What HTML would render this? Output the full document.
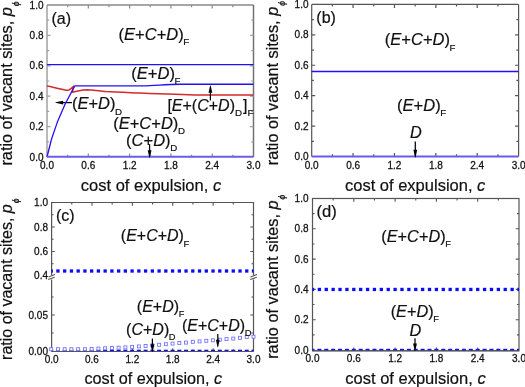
<!DOCTYPE html>
<html><head><meta charset="utf-8"><style>
html,body{margin:0;padding:0;background:#fff;overflow:hidden}
svg{display:block;will-change:transform}
text{font-family:"Liberation Sans", sans-serif;fill:#111;stroke:#111;stroke-width:0.2px}
text.t{stroke-width:0.26px}
</style></head><body>
<svg width="525" height="387" viewBox="0 0 525 387">
<rect width="525" height="387" fill="#fff"/>
<path d="M47,157V5" stroke="#a0a0a0" stroke-width="1.5" fill="none"/>
<path d="M47,5H253.5" stroke="#8a8a8a" stroke-width="1.5" fill="none"/>
<path d="M253.5,5V157" stroke="#707070" stroke-width="1.5" fill="none"/>
<path d="M67.65,157v-2.2M67.65,5v2.2M88.30,157v-3.5M88.30,5v3.5M108.95,157v-2.2M108.95,5v2.2M129.60,157v-3.5M129.60,5v3.5M150.25,157v-2.2M150.25,5v2.2M170.90,157v-3.5M170.90,5v3.5M191.55,157v-2.2M191.55,5v2.2M212.20,157v-3.5M212.20,5v3.5M232.85,157v-2.2M232.85,5v2.2" stroke="#8a8a8a" stroke-width="1.2" fill="none"/>
<path d="M47,141.80h2.2M253.5,141.80h-2.2M47,126.60h3.5M253.5,126.60h-3.5M47,111.40h2.2M253.5,111.40h-2.2M47,96.20h3.5M253.5,96.20h-3.5M47,81.00h2.2M253.5,81.00h-2.2M47,65.80h3.5M253.5,65.80h-3.5M47,50.60h2.2M253.5,50.60h-2.2M47,35.40h3.5M253.5,35.40h-3.5M47,20.20h2.2M253.5,20.20h-2.2" stroke="#a0a0a0" stroke-width="1.2" fill="none"/>
<path d="M72,102.6H62.1" stroke="#000" stroke-width="1.25"/><path d="M63.1,100.8L63.1,104.39999999999999L55.5,102.85L55.5,102.35Z" fill="#000"/>
<path d="M47,64.6H253.5" stroke="#2410f2" stroke-width="1.35" fill="none"/>
<path d="M47,85.9 C52,86.8 58,88.3 63,89.6 C65.5,90.3 67,90.6 68.9,90 C70.5,89.3 72.5,87.5 74.1,85.9 L72.2,92.2 C74,91.8 76,91.4 78,91.0 C81,90.4 84,89.9 87,89.8 C92,89.8 98,90.6 106,91.6 C115,92.3 125,92.5 140,93 C160,93.8 180,94.6 200,95 L253.5,95.1" stroke="#d42a2a" stroke-width="1.5" fill="none"/>
<path d="M47,157 C50.2,141.7 56.9,117 74.4,86.5 Q74.8,85.9 75.6,85.9 H143 C155,85.9 165,84.2 180,84.2 H253.5" stroke="#2410f2" stroke-width="1.35" fill="none"/>
<path d="M47,156.8H253.5" stroke="#6a5ce6" stroke-width="2" fill="none"/>
<text class="t" x="47.00" y="168.7" font-size="10" text-anchor="middle">0.0</text><text class="t" x="88.30" y="168.7" font-size="10" text-anchor="middle">0.6</text><text class="t" x="129.60" y="168.7" font-size="10" text-anchor="middle">1.2</text><text class="t" x="170.90" y="168.7" font-size="10" text-anchor="middle">1.8</text><text class="t" x="212.20" y="168.7" font-size="10" text-anchor="middle">2.4</text><text class="t" x="253.50" y="168.7" font-size="10" text-anchor="middle">3.0</text>
<text class="t" x="43.5" y="160.60" font-size="10" text-anchor="end">0.0</text><text class="t" x="43.5" y="130.20" font-size="10" text-anchor="end">0.2</text><text class="t" x="43.5" y="99.80" font-size="10" text-anchor="end">0.4</text><text class="t" x="43.5" y="69.40" font-size="10" text-anchor="end">0.6</text><text class="t" x="43.5" y="39.00" font-size="10" text-anchor="end">0.8</text><text class="t" x="43.5" y="8.60" font-size="10" text-anchor="end">1.0</text>
<text transform="translate(12.4,165.6) rotate(-90)" x="0" y="0" font-size="16.3">ratio of vacant sites, <tspan font-style="italic">p</tspan><tspan font-size="8.5" dy="6.8" dx="1.0" font-style="italic">ϕ</tspan></text>
<text x="80.8" y="190.8" font-size="16.5">cost of expulsion, <tspan font-style="italic">c</tspan></text>
<text x="51.5" y="24" font-size="16" text-anchor="start" >(a)</text>
<text x="118.6" y="39.7" font-size="16.5">(<tspan font-style="italic">E</tspan>+<tspan font-style="italic">C</tspan>+<tspan font-style="italic">D</tspan>)<tspan font-size="9.7" dy="5.5" dx="-0.4">F</tspan></text>
<text x="131.3" y="78.6" font-size="16.5">(<tspan font-style="italic">E</tspan>+<tspan font-style="italic">D</tspan>)<tspan font-size="9.7" dy="5.5" dx="-0.4">F</tspan></text>
<text x="71.9" y="109.0" font-size="16.5">(<tspan font-style="italic">E</tspan>+<tspan font-style="italic">D</tspan>)<tspan font-size="9.7" dy="5.5" dx="-0.4">D</tspan></text>
<text x="167.4" y="110.6" font-size="16">[<tspan font-style="italic">E</tspan>+(<tspan font-style="italic">C</tspan>+<tspan font-style="italic">D</tspan>)<tspan font-size="9.8" dy="5.0">D</tspan><tspan dy="-5.0" dx="0.9">]</tspan><tspan font-size="9.8" dy="5.2">F</tspan></text>
<path d="M210.4,100.5V91.8" stroke="#000" stroke-width="1.25"/><path d="M208.5,92.8L212.3,92.8L210.65,85.4L210.15,85.4Z" fill="#000"/>
<text x="113.2" y="128.5" font-size="16.5">(<tspan font-style="italic">E</tspan>+<tspan font-style="italic">C</tspan>+<tspan font-style="italic">D</tspan>)<tspan font-size="9.7" dy="5.5" dx="-0.4">D</tspan></text>
<text x="126.1" y="145.5" font-size="16.5">(<tspan font-style="italic">C</tspan>+<tspan font-style="italic">D</tspan>)<tspan font-size="9.7" dy="5.5" dx="-0.4">D</tspan></text>
<path d="M149.6,144.2V151.2" stroke="#000" stroke-width="1.25"/><path d="M147.7,150.2L151.5,150.2L149.85,157.8L149.35,157.8Z" fill="#000"/>
<path d="M311.7,156.5V4.4" stroke="#555" stroke-width="1.2" fill="none"/>
<path d="M311.7,4.4H518.6" stroke="#555" stroke-width="1.2" fill="none"/>
<path d="M518.6,4.4V156.5" stroke="#555" stroke-width="1.2" fill="none"/>
<path d="M332.39,156.5v-2.2M332.39,4.4v2.2M353.08,156.5v-3.5M353.08,4.4v3.5M373.77,156.5v-2.2M373.77,4.4v2.2M394.46,156.5v-3.5M394.46,4.4v3.5M415.15,156.5v-2.2M415.15,4.4v2.2M435.84,156.5v-3.5M435.84,4.4v3.5M456.53,156.5v-2.2M456.53,4.4v2.2M477.22,156.5v-3.5M477.22,4.4v3.5M497.91,156.5v-2.2M497.91,4.4v2.2" stroke="#555" stroke-width="1.2" fill="none"/>
<path d="M311.7,141.29h2.2M518.6,141.29h-2.2M311.7,126.08h3.5M518.6,126.08h-3.5M311.7,110.87h2.2M518.6,110.87h-2.2M311.7,95.66h3.5M518.6,95.66h-3.5M311.7,80.45h2.2M518.6,80.45h-2.2M311.7,65.24h3.5M518.6,65.24h-3.5M311.7,50.03h2.2M518.6,50.03h-2.2M311.7,34.82h3.5M518.6,34.82h-3.5M311.7,19.61h2.2M518.6,19.61h-2.2" stroke="#555" stroke-width="1.2" fill="none"/>
<path d="M311.7,71.5H518.6" stroke="#2410f2" stroke-width="1.35" fill="none"/>
<path d="M311.7,156.6H518.6" stroke="#6a5ce6" stroke-width="2" fill="none"/>
<text class="t" x="311.70" y="168.5" font-size="10" text-anchor="middle">0.0</text><text class="t" x="353.08" y="168.5" font-size="10" text-anchor="middle">0.6</text><text class="t" x="394.46" y="168.5" font-size="10" text-anchor="middle">1.2</text><text class="t" x="435.84" y="168.5" font-size="10" text-anchor="middle">1.8</text><text class="t" x="477.22" y="168.5" font-size="10" text-anchor="middle">2.4</text><text class="t" x="518.60" y="168.5" font-size="10" text-anchor="middle">3.0</text>
<text class="t" x="308.5" y="160.10" font-size="10" text-anchor="end">0.0</text><text class="t" x="308.5" y="129.68" font-size="10" text-anchor="end">0.2</text><text class="t" x="308.5" y="99.26" font-size="10" text-anchor="end">0.4</text><text class="t" x="308.5" y="68.84" font-size="10" text-anchor="end">0.6</text><text class="t" x="308.5" y="38.42" font-size="10" text-anchor="end">0.8</text><text class="t" x="308.5" y="8.00" font-size="10" text-anchor="end">1.0</text>
<text transform="translate(278.1,165.2) rotate(-90)" x="0" y="0" font-size="16.3">ratio of vacant sites, <tspan font-style="italic">p</tspan><tspan font-size="8.5" dy="6.8" dx="1.0" font-style="italic">ϕ</tspan></text>
<text x="345" y="190.5" font-size="16.5">cost of expulsion, <tspan font-style="italic">c</tspan></text>
<text x="316.3" y="23" font-size="16" text-anchor="start" >(b)</text>
<text x="384.8" y="45.0" font-size="16.5">(<tspan font-style="italic">E</tspan>+<tspan font-style="italic">C</tspan>+<tspan font-style="italic">D</tspan>)<tspan font-size="9.7" dy="5.5" dx="-0.4">F</tspan></text>
<text x="397.1" y="110.7" font-size="16.5">(<tspan font-style="italic">E</tspan>+<tspan font-style="italic">D</tspan>)<tspan font-size="9.7" dy="5.5" dx="-0.4">F</tspan></text>
<text x="410.0" y="137.9" font-size="16.3" text-anchor="start" ><tspan font-style="italic">D</tspan></text>
<path d="M415.3,141.6V150.79999999999998" stroke="#000" stroke-width="1.25"/><path d="M413.40000000000003,149.79999999999998L417.2,149.79999999999998L415.55,157.4L415.05,157.4Z" fill="#000"/>
<path d="M51.6,275 V202.5 H253.5 V275 M51.6,279.5 V351.5 M253.5,351.5 V279.5" fill="none" stroke="#555555" stroke-width="1.2"/>
<path d="M48.5,276.9 L55,274.6 M48.2,279.6 L54.7,277.3 M250.5,276.9 L257,274.6 M250.2,279.6 L256.7,277.3" stroke="#555555" stroke-width="1.1"/>
<path d="M71.79,351.5v-2.0M71.79,202.5v2.0M91.98,351.5v-3.2M91.98,202.5v3.2M112.17,351.5v-2.0M112.17,202.5v2.0M132.36,351.5v-3.2M132.36,202.5v3.2M152.55,351.5v-2.0M152.55,202.5v2.0M172.74,351.5v-3.2M172.74,202.5v3.2M192.93,351.5v-2.0M192.93,202.5v2.0M213.12,351.5v-3.2M213.12,202.5v3.2M233.31,351.5v-2.0M233.31,202.5v2.0" stroke="#555555" stroke-width="1.1" fill="none"/>
<path d="M51.6,214.75h2.0M253.5,214.75h-2.0M51.6,227.00h3.2M253.5,227.00h-3.2M51.6,239.25h2.0M253.5,239.25h-2.0M51.6,251.50h3.2M253.5,251.50h-3.2M51.6,263.75h2.0M253.5,263.75h-2.0M51.6,333.00h2.0M253.5,333.00h-2.0M51.6,315.00h3.2M253.5,315.00h-3.2M51.6,297.00h2.0M253.5,297.00h-2.0" stroke="#555555" stroke-width="1.1" fill="none"/>
<clipPath id="cc"><rect x="51.300000000000004" y="202.5" width="202.20000000000002" height="151.0"/></clipPath>
<g fill="#0a0aff" clip-path="url(#cc)"><rect x="49.55" y="269.35" width="3.3" height="3.3"/><rect x="49.20" y="349.7" width="4" height="2.0"/><rect x="56.29" y="269.35" width="3.3" height="3.3"/><rect x="55.94" y="349.7" width="4" height="2.0"/><rect x="63.04" y="269.35" width="3.3" height="3.3"/><rect x="62.69" y="349.7" width="4" height="2.0"/><rect x="69.78" y="269.35" width="3.3" height="3.3"/><rect x="69.43" y="349.7" width="4" height="2.0"/><rect x="76.52" y="269.35" width="3.3" height="3.3"/><rect x="76.17" y="349.7" width="4" height="2.0"/><rect x="83.27" y="269.35" width="3.3" height="3.3"/><rect x="82.92" y="349.7" width="4" height="2.0"/><rect x="90.01" y="269.35" width="3.3" height="3.3"/><rect x="89.66" y="349.7" width="4" height="2.0"/><rect x="96.75" y="269.35" width="3.3" height="3.3"/><rect x="96.40" y="349.7" width="4" height="2.0"/><rect x="103.49" y="269.35" width="3.3" height="3.3"/><rect x="103.14" y="349.7" width="4" height="2.0"/><rect x="110.24" y="269.35" width="3.3" height="3.3"/><rect x="109.89" y="349.7" width="4" height="2.0"/><rect x="116.98" y="269.35" width="3.3" height="3.3"/><rect x="116.63" y="349.7" width="4" height="2.0"/><rect x="123.72" y="269.35" width="3.3" height="3.3"/><rect x="123.37" y="349.7" width="4" height="2.0"/><rect x="130.47" y="269.35" width="3.3" height="3.3"/><rect x="130.12" y="349.7" width="4" height="2.0"/><rect x="137.21" y="269.35" width="3.3" height="3.3"/><rect x="136.86" y="349.7" width="4" height="2.0"/><rect x="143.95" y="269.35" width="3.3" height="3.3"/><rect x="143.60" y="349.7" width="4" height="2.0"/><rect x="150.70" y="269.35" width="3.3" height="3.3"/><rect x="150.35" y="349.7" width="4" height="2.0"/><rect x="157.44" y="269.35" width="3.3" height="3.3"/><rect x="157.09" y="349.7" width="4" height="2.0"/><rect x="164.18" y="269.35" width="3.3" height="3.3"/><rect x="163.83" y="349.7" width="4" height="2.0"/><rect x="170.92" y="269.35" width="3.3" height="3.3"/><rect x="170.57" y="349.7" width="4" height="2.0"/><rect x="177.67" y="269.35" width="3.3" height="3.3"/><rect x="177.32" y="349.7" width="4" height="2.0"/><rect x="184.41" y="269.35" width="3.3" height="3.3"/><rect x="184.06" y="349.7" width="4" height="2.0"/><rect x="191.15" y="269.35" width="3.3" height="3.3"/><rect x="190.80" y="349.7" width="4" height="2.0"/><rect x="197.90" y="269.35" width="3.3" height="3.3"/><rect x="197.55" y="349.7" width="4" height="2.0"/><rect x="204.64" y="269.35" width="3.3" height="3.3"/><rect x="204.29" y="349.7" width="4" height="2.0"/><rect x="211.38" y="269.35" width="3.3" height="3.3"/><rect x="211.03" y="349.7" width="4" height="2.0"/><rect x="218.13" y="269.35" width="3.3" height="3.3"/><rect x="217.78" y="349.7" width="4" height="2.0"/><rect x="224.87" y="269.35" width="3.3" height="3.3"/><rect x="224.52" y="349.7" width="4" height="2.0"/><rect x="231.61" y="269.35" width="3.3" height="3.3"/><rect x="231.26" y="349.7" width="4" height="2.0"/><rect x="238.35" y="269.35" width="3.3" height="3.3"/><rect x="238.00" y="349.7" width="4" height="2.0"/><rect x="245.10" y="269.35" width="3.3" height="3.3"/><rect x="244.75" y="349.7" width="4" height="2.0"/><rect x="251.84" y="269.35" width="3.3" height="3.3"/><rect x="251.49" y="349.7" width="4" height="2.0"/></g>
<g fill="#fff" stroke="#6e6eff" stroke-width="0.85"><rect x="49.70" y="347.70" width="3.0" height="3.0"/><rect x="56.44" y="347.70" width="3.0" height="3.0"/><rect x="63.19" y="347.70" width="3.0" height="3.0"/><rect x="69.93" y="347.70" width="3.0" height="3.0"/><rect x="76.67" y="347.70" width="3.0" height="3.0"/><rect x="83.42" y="347.70" width="3.0" height="3.0"/><rect x="90.16" y="347.40" width="3.0" height="3.0"/><rect x="96.90" y="347.10" width="3.0" height="3.0"/><rect x="103.64" y="346.80" width="3.0" height="3.0"/><rect x="110.39" y="346.50" width="3.0" height="3.0"/><rect x="117.13" y="346.20" width="3.0" height="3.0"/><rect x="123.87" y="345.90" width="3.0" height="3.0"/><rect x="130.62" y="345.43" width="3.0" height="3.0"/><rect x="137.36" y="344.97" width="3.0" height="3.0"/><rect x="144.10" y="344.50" width="3.0" height="3.0"/><rect x="150.85" y="343.90" width="3.0" height="3.0"/><rect x="157.59" y="343.30" width="3.0" height="3.0"/><rect x="164.33" y="342.70" width="3.0" height="3.0"/><rect x="171.07" y="342.10" width="3.0" height="3.0"/><rect x="177.82" y="341.50" width="3.0" height="3.0"/><rect x="184.56" y="341.10" width="3.0" height="3.0"/><rect x="191.30" y="340.30" width="3.0" height="3.0"/><rect x="198.05" y="339.90" width="3.0" height="3.0"/><rect x="204.79" y="339.30" width="3.0" height="3.0"/><rect x="211.53" y="338.80" width="3.0" height="3.0"/><rect x="218.28" y="338.20" width="3.0" height="3.0"/><rect x="225.02" y="337.60" width="3.0" height="3.0"/><rect x="231.76" y="337.10" width="3.0" height="3.0"/><rect x="238.50" y="336.30" width="3.0" height="3.0"/><rect x="245.25" y="335.50" width="3.0" height="3.0"/><rect x="251.99" y="335.20" width="3.0" height="3.0"/></g>
<path d="M51.6,351.5H253.5" stroke="#555555" stroke-width="1.1"/>
<text class="t" x="51.60" y="362.7" font-size="10" text-anchor="middle">0.0</text><text class="t" x="91.98" y="362.7" font-size="10" text-anchor="middle">0.6</text><text class="t" x="132.36" y="362.7" font-size="10" text-anchor="middle">1.2</text><text class="t" x="172.74" y="362.7" font-size="10" text-anchor="middle">1.8</text><text class="t" x="213.12" y="362.7" font-size="10" text-anchor="middle">2.4</text><text class="t" x="253.50" y="362.7" font-size="10" text-anchor="middle">3.0</text>
<text class="t" x="48" y="206.10" font-size="10" text-anchor="end">1.0</text><text class="t" x="48" y="230.60" font-size="10" text-anchor="end">0.8</text><text class="t" x="48" y="255.10" font-size="10" text-anchor="end">0.6</text><text class="t" x="48" y="278.80" font-size="10" text-anchor="end">0.4</text><text class="t" x="48" y="318.60" font-size="10" text-anchor="end">0.05</text><text class="t" x="48" y="354.60" font-size="10" text-anchor="end">0.00</text>
<text transform="translate(12.3,359.9) rotate(-90)" x="0" y="0" font-size="16.0">ratio of vacant sites, <tspan font-style="italic">p</tspan><tspan font-size="8.5" dy="6.8" dx="1.0" font-style="italic">ϕ</tspan></text>
<text x="84.5" y="383.6" font-size="16.2">cost of expulsion, <tspan font-style="italic">c</tspan></text>
<text x="55.9" y="221.2" font-size="16" text-anchor="start" >(c)</text>
<text x="120.8" y="241.3" font-size="16">(<tspan font-style="italic">E</tspan>+<tspan font-style="italic">C</tspan>+<tspan font-style="italic">D</tspan>)<tspan font-size="9.3" dy="5.2" dx="-0.4">F</tspan></text>
<text x="136.8" y="312.0" font-size="16">(<tspan font-style="italic">E</tspan>+<tspan font-style="italic">D</tspan>)<tspan font-size="9.2" dy="5.0" dx="-0.4">F</tspan></text>
<text x="126.1" y="335.1" font-size="16">(<tspan font-style="italic">C</tspan>+<tspan font-style="italic">D</tspan>)<tspan font-size="9.3" dy="5.3" dx="-0.4">D</tspan></text>
<text x="181.9" y="330.6" font-size="16">(<tspan font-style="italic">E</tspan>+<tspan font-style="italic">C</tspan>+<tspan font-style="italic">D</tspan>)<tspan font-size="9.5" dy="5.0" dx="-0.4">D</tspan></text>
<path d="M152.4,338.6V345.3" stroke="#000" stroke-width="1.25"/><path d="M150.5,344.3L154.3,344.3L152.65,351.90000000000003L152.15,351.90000000000003Z" fill="#000"/>
<path d="M217.8,334.0V340.7" stroke="#000" stroke-width="1.25"/><path d="M215.9,339.7L219.70000000000002,339.7L218.05,347.3L217.55,347.3Z" fill="#000"/>
<rect x="312.5" y="198.5" width="206.5" height="152.3" fill="none" stroke="#555555" stroke-width="1.2"/>
<path d="M333.15,350.8v-2.0M333.15,198.5v2.0M353.80,350.8v-3.2M353.80,198.5v3.2M374.45,350.8v-2.0M374.45,198.5v2.0M395.10,350.8v-3.2M395.10,198.5v3.2M415.75,350.8v-2.0M415.75,198.5v2.0M436.40,350.8v-3.2M436.40,198.5v3.2M457.05,350.8v-2.0M457.05,198.5v2.0M477.70,350.8v-3.2M477.70,198.5v3.2M498.35,350.8v-2.0M498.35,198.5v2.0" stroke="#555555" stroke-width="1.1" fill="none"/>
<path d="M312.5,334.85h2.0M519,334.85h-2.0M312.5,319.70h3.2M519,319.70h-3.2M312.5,304.55h2.0M519,304.55h-2.0M312.5,289.40h3.2M519,289.40h-3.2M312.5,274.25h2.0M519,274.25h-2.0M312.5,259.10h3.2M519,259.10h-3.2M312.5,243.95h2.0M519,243.95h-2.0M312.5,228.80h3.2M519,228.80h-3.2M312.5,213.65h2.0M519,213.65h-2.0" stroke="#555555" stroke-width="1.1" fill="none"/>
<clipPath id="cd"><rect x="312.5" y="198.5" width="206.5" height="153.5"/></clipPath>
<g fill="#0a0aff" clip-path="url(#cd)"><rect x="310.85" y="287.80" width="3.3" height="3.3"/><rect x="310.50" y="348.8" width="4" height="2.0"/><rect x="317.73" y="287.80" width="3.3" height="3.3"/><rect x="317.38" y="348.8" width="4" height="2.0"/><rect x="324.62" y="287.80" width="3.3" height="3.3"/><rect x="324.27" y="348.8" width="4" height="2.0"/><rect x="331.50" y="287.80" width="3.3" height="3.3"/><rect x="331.15" y="348.8" width="4" height="2.0"/><rect x="338.38" y="287.80" width="3.3" height="3.3"/><rect x="338.03" y="348.8" width="4" height="2.0"/><rect x="345.27" y="287.80" width="3.3" height="3.3"/><rect x="344.92" y="348.8" width="4" height="2.0"/><rect x="352.15" y="287.80" width="3.3" height="3.3"/><rect x="351.80" y="348.8" width="4" height="2.0"/><rect x="359.03" y="287.80" width="3.3" height="3.3"/><rect x="358.68" y="348.8" width="4" height="2.0"/><rect x="365.92" y="287.80" width="3.3" height="3.3"/><rect x="365.57" y="348.8" width="4" height="2.0"/><rect x="372.80" y="287.80" width="3.3" height="3.3"/><rect x="372.45" y="348.8" width="4" height="2.0"/><rect x="379.68" y="287.80" width="3.3" height="3.3"/><rect x="379.33" y="348.8" width="4" height="2.0"/><rect x="386.57" y="287.80" width="3.3" height="3.3"/><rect x="386.22" y="348.8" width="4" height="2.0"/><rect x="393.45" y="287.80" width="3.3" height="3.3"/><rect x="393.10" y="348.8" width="4" height="2.0"/><rect x="400.33" y="287.80" width="3.3" height="3.3"/><rect x="399.98" y="348.8" width="4" height="2.0"/><rect x="407.22" y="287.80" width="3.3" height="3.3"/><rect x="406.87" y="348.8" width="4" height="2.0"/><rect x="414.10" y="287.80" width="3.3" height="3.3"/><rect x="413.75" y="348.8" width="4" height="2.0"/><rect x="420.98" y="287.80" width="3.3" height="3.3"/><rect x="420.63" y="348.8" width="4" height="2.0"/><rect x="427.87" y="287.80" width="3.3" height="3.3"/><rect x="427.52" y="348.8" width="4" height="2.0"/><rect x="434.75" y="287.80" width="3.3" height="3.3"/><rect x="434.40" y="348.8" width="4" height="2.0"/><rect x="441.63" y="287.80" width="3.3" height="3.3"/><rect x="441.28" y="348.8" width="4" height="2.0"/><rect x="448.52" y="287.80" width="3.3" height="3.3"/><rect x="448.17" y="348.8" width="4" height="2.0"/><rect x="455.40" y="287.80" width="3.3" height="3.3"/><rect x="455.05" y="348.8" width="4" height="2.0"/><rect x="462.28" y="287.80" width="3.3" height="3.3"/><rect x="461.93" y="348.8" width="4" height="2.0"/><rect x="469.17" y="287.80" width="3.3" height="3.3"/><rect x="468.82" y="348.8" width="4" height="2.0"/><rect x="476.05" y="287.80" width="3.3" height="3.3"/><rect x="475.70" y="348.8" width="4" height="2.0"/><rect x="482.93" y="287.80" width="3.3" height="3.3"/><rect x="482.58" y="348.8" width="4" height="2.0"/><rect x="489.82" y="287.80" width="3.3" height="3.3"/><rect x="489.47" y="348.8" width="4" height="2.0"/><rect x="496.70" y="287.80" width="3.3" height="3.3"/><rect x="496.35" y="348.8" width="4" height="2.0"/><rect x="503.58" y="287.80" width="3.3" height="3.3"/><rect x="503.23" y="348.8" width="4" height="2.0"/><rect x="510.47" y="287.80" width="3.3" height="3.3"/><rect x="510.12" y="348.8" width="4" height="2.0"/><rect x="517.35" y="287.80" width="3.3" height="3.3"/><rect x="517.00" y="348.8" width="4" height="2.0"/></g>
<path d="M312.5,350.8H519" stroke="#555555" stroke-width="1.0"/>
<text class="t" x="312.50" y="361.6" font-size="10" text-anchor="middle">0.0</text><text class="t" x="353.80" y="361.6" font-size="10" text-anchor="middle">0.6</text><text class="t" x="395.10" y="361.6" font-size="10" text-anchor="middle">1.2</text><text class="t" x="436.40" y="361.6" font-size="10" text-anchor="middle">1.8</text><text class="t" x="477.70" y="361.6" font-size="10" text-anchor="middle">2.4</text><text class="t" x="519.00" y="361.6" font-size="10" text-anchor="middle">3.0</text>
<text class="t" x="308.5" y="353.60" font-size="10" text-anchor="end">0.0</text><text class="t" x="308.5" y="323.30" font-size="10" text-anchor="end">0.2</text><text class="t" x="308.5" y="293.00" font-size="10" text-anchor="end">0.4</text><text class="t" x="308.5" y="262.70" font-size="10" text-anchor="end">0.6</text><text class="t" x="308.5" y="232.40" font-size="10" text-anchor="end">0.8</text><text class="t" x="308.5" y="202.10" font-size="10" text-anchor="end">1.0</text>
<text transform="translate(278.1,358.8) rotate(-90)" x="0" y="0" font-size="16.3">ratio of vacant sites, <tspan font-style="italic">p</tspan><tspan font-size="8.5" dy="6.8" dx="1.0" font-style="italic">ϕ</tspan></text>
<text x="345.3" y="383.5" font-size="16.5">cost of expulsion, <tspan font-style="italic">c</tspan></text>
<text x="316.4" y="217.1" font-size="16.6" text-anchor="start" >(d)</text>
<text x="381.3" y="241.7" font-size="16.3">(<tspan font-style="italic">E</tspan>+<tspan font-style="italic">C</tspan>+<tspan font-style="italic">D</tspan>)<tspan font-size="9.3" dy="5.6" dx="-0.4">F</tspan></text>
<text x="390.7" y="316.5" font-size="16.3">(<tspan font-style="italic">E</tspan>+<tspan font-style="italic">D</tspan>)<tspan font-size="9.2" dy="5.6" dx="-0.4">F</tspan></text>
<text x="409.6" y="335.8" font-size="16.3" text-anchor="start" ><tspan font-style="italic">D</tspan></text>
<path d="M415.0,338.2V344.5" stroke="#000" stroke-width="1.25"/><path d="M413.1,343.5L416.9,343.5L415.25,351.1L414.75,351.1Z" fill="#000"/>
</svg>
</body></html>
